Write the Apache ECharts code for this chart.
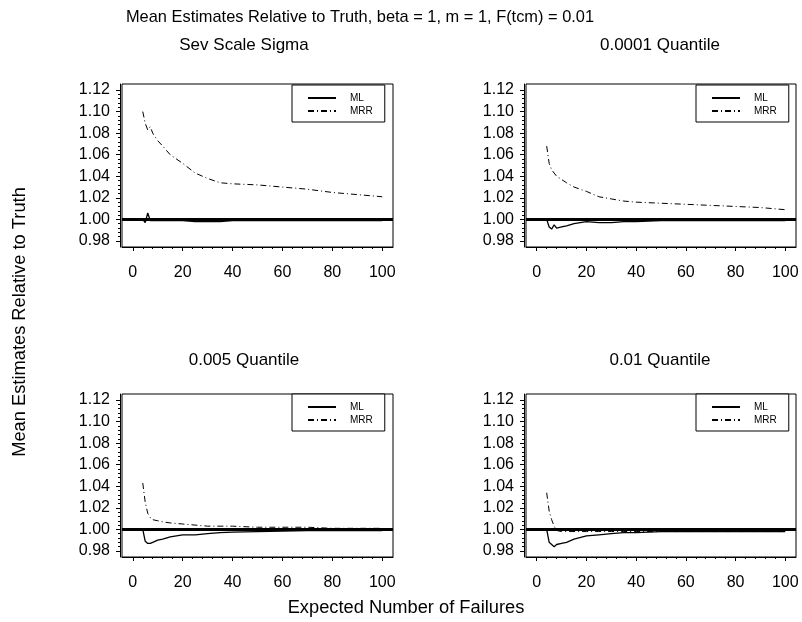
<!DOCTYPE html>
<html>
<head>
<meta charset="utf-8">
<script src="https://cdn.jsdelivr.net/npm/echarts@6/dist/echarts.min.js"></script>
<style>
html,body{margin:0;padding:0;background:#fff;}
#chart{width:802px;height:622px;}
</style>
</head>
<body>
<div id="chart"></div>
<script>
// ---- data ----
var mainTitle = 'Mean Estimates Relative to Truth, beta = 1, m = 1, F(tcm) = 0.01';
var panelTitles = ['Sev Scale Sigma', '0.0001 Quantile', '0.005 Quantile', '0.01 Quantile'];
var xName = 'Expected Number of Failures';
var yName = 'Mean Estimates Relative to Truth';
var seriesNames = ['ML', 'MRR'];

var failures = [4, 5, 6, 7, 8, 10, 12, 15, 20, 25, 30, 35, 40, 50, 60, 70, 80, 90, 100];

var mlSigma   = [1.000, 0.997, 1.006, 0.999, 0.999, 0.999, 0.999, 0.999, 0.999, 0.998, 0.998, 0.998, 0.999, 0.999, 0.999, 0.999, 0.999, 0.999, 0.999];
var mrrSigma  = [1.100, 1.089, 1.083, 1.086, 1.080, 1.073, 1.068, 1.060, 1.052, 1.043, 1.038, 1.034, 1.033, 1.032, 1.030, 1.028, 1.025, 1.023, 1.021];

var mlQ0001   = [1.000, 0.993, 0.991, 0.995, 0.992, 0.993, 0.994, 0.996, 0.998, 0.997, 0.997, 0.998, 0.998, 0.999, 0.999, 0.999, 0.999, 0.999, 0.999];
var mrrQ0001  = [1.068, 1.052, 1.046, 1.043, 1.040, 1.037, 1.034, 1.030, 1.026, 1.021, 1.019, 1.017, 1.016, 1.015, 1.014, 1.013, 1.012, 1.011, 1.009];

var mlQ005    = [1.000, 0.989, 0.987, 0.987, 0.988, 0.990, 0.991, 0.993, 0.995, 0.995, 0.996, 0.997, 0.9975, 0.998, 0.9985, 0.999, 0.999, 0.999, 0.999];
var mrrQ005   = [1.043, 1.025, 1.015, 1.011, 1.009, 1.008, 1.007, 1.006, 1.005, 1.004, 1.003, 1.003, 1.003, 1.002, 1.002, 1.002, 1.001, 1.001, 1.001];

var mlQ01     = [1.000, 0.988, 0.986, 0.984, 0.986, 0.987, 0.988, 0.991, 0.994, 0.995, 0.996, 0.997, 0.997, 0.998, 0.998, 0.998, 0.998, 0.998, 0.998];
var mrrQ01    = [1.034, 1.017, 1.009, 1.003, 0.999, 0.998, 0.998, 0.998, 0.998, 0.998, 0.998, 0.998, 0.998, 0.998, 0.998, 0.998, 0.998, 0.998, 0.998];

var referenceValue = 1.0;
var yTicks = [0.98, 1.00, 1.02, 1.04, 1.06, 1.08, 1.10, 1.12];
var yMinorTicks = [0.984, 0.988, 0.992, 0.996, 1.004, 1.008, 1.012, 1.016, 1.024, 1.028, 1.032, 1.036, 1.044, 1.048, 1.052, 1.056, 1.064, 1.068, 1.072, 1.076, 1.084, 1.088, 1.092, 1.096, 1.104, 1.108, 1.112, 1.116];
var xTicks = [0, 20, 40, 60, 80, 100];
var xMinorTicks = [4, 8, 12, 16, 24, 28, 32, 36, 44, 48, 52, 56, 64, 68, 72, 76, 84, 88, 92, 96];

var panelML  = [mlSigma, mlQ0001, mlQ005, mlQ01];
var panelMRR = [mrrSigma, mrrQ0001, mrrQ005, mrrQ01];

// ---- layout ----
var FONT = '"Liberation Sans", Arial, Helvetica, sans-serif';
var grids = [
  {left: 122, top: 84, width: 271, height: 163},
  {left: 526, top: 84, width: 270, height: 163},
  {left: 122, top: 394, width: 271, height: 163},
  {left: 526, top: 394, width: 270, height: 163}
];
var titlePos = [[244, 45], [660, 45], [244, 360], [660, 360]];
var legendPos = [
  {left: 292, top: 85},
  {left: 696, top: 85},
  {left: 292, top: 394},
  {left: 696, top: 394}
];
var X_MIN = -4.32, X_MAX = 104.32;
var Y_MIN = 0.9744, Y_MAX = 1.1256;

function zip(xs, ys) { return xs.map(function (x, i) { return [x, ys[i]]; }); }

var option = {
  animation: false,
  backgroundColor: '#fff',
  grid: [], xAxis: [], yAxis: [], series: [], legend: [], graphic: []
};

grids.forEach(function (g, i) {
  option.grid.push({left: g.left, top: g.top, width: g.width, height: g.height,
    show: true, borderColor: '#000', borderWidth: 1, backgroundColor: 'transparent'});
  // major x axis
  option.xAxis.push({type: 'value', gridIndex: i, position: 'bottom', min: X_MIN, max: X_MAX,
    axisLine: {show: true, onZero: false, lineStyle: {color: '#000', width: 1}},
    axisTick: {show: true, customValues: xTicks, length: 4, lineStyle: {color: '#000'}},
    axisLabel: {show: true, customValues: xTicks, color: '#000', fontSize: 16, fontFamily: FONT, margin: 18,
      formatter: function (v) { return String(v); }},
    splitLine: {show: false}});
  // minor x ticks
  option.xAxis.push({type: 'value', gridIndex: i, position: 'bottom', min: X_MIN, max: X_MAX,
    axisLine: {show: false, onZero: false},
    axisTick: {show: true, customValues: xMinorTicks, length: 2, lineStyle: {color: '#000'}},
    axisLabel: {show: false}, splitLine: {show: false}});
  // major y axis
  option.yAxis.push({type: 'value', gridIndex: i, position: 'left', min: Y_MIN, max: Y_MAX, offset: 2,
    axisLine: {show: true, onZero: false, lineStyle: {color: '#000', width: 1}},
    axisTick: {show: true, customValues: yTicks, length: 4, lineStyle: {color: '#000'}},
    axisLabel: {show: true, customValues: yTicks, color: '#000', fontSize: 16, fontFamily: FONT, margin: 10,
      formatter: function (v) { return v.toFixed(2); }},
    splitLine: {show: false}});
  // minor y ticks
  option.yAxis.push({type: 'value', gridIndex: i, position: 'left', min: Y_MIN, max: Y_MAX, offset: 2,
    axisLine: {show: false, onZero: false},
    axisTick: {show: true, customValues: yMinorTicks, length: 2, lineStyle: {color: '#000'}},
    axisLabel: {show: false}, splitLine: {show: false}});

  option.series.push({name: seriesNames[0], type: 'line', xAxisIndex: 2 * i, yAxisIndex: 2 * i,
    data: zip(failures, panelML[i]), symbol: 'none', showSymbol: false,
    lineStyle: {color: '#000', width: 1.3, type: 'solid'}, itemStyle: {color: '#000'},
    markLine: {silent: true, symbol: ['none', 'none'], label: {show: false},
      lineStyle: {color: '#000', width: 3, type: 'solid'},
      data: [{yAxis: referenceValue}]}, z: 3});
  option.series.push({name: seriesNames[1], type: 'line', xAxisIndex: 2 * i, yAxisIndex: 2 * i,
    data: zip(failures, panelMRR[i]), symbol: 'none', showSymbol: false,
    lineStyle: {color: '#000', width: 1, type: [6, 3, 1, 3]}, itemStyle: {color: '#000'}, z: 2});

  option.legend.push({show: true, orient: 'vertical', left: legendPos[i].left, top: legendPos[i].top,
    data: seriesNames, selectedMode: false,
    padding: [8, 12, 6, 15], itemGap: 3, itemWidth: 28, itemHeight: 12,
    itemStyle: {opacity: 0, color: 'rgba(0,0,0,0)', borderWidth: 0},
    borderColor: '#000', borderWidth: 1, borderRadius: 0, backgroundColor: '#fff',
    textStyle: {color: '#000', fontSize: 10, fontFamily: FONT, padding: [0, 0, 0, 9]}});

  option.graphic.push({type: 'text', x: titlePos[i][0], y: titlePos[i][1],
    style: {text: panelTitles[i], fill: '#000', font: '17px ' + FONT, align: 'center', verticalAlign: 'middle'}});
});

option.graphic.push({type: 'text', x: 360, y: 17,
  style: {text: mainTitle, fill: '#000', font: '16.4px ' + FONT, align: 'center', verticalAlign: 'middle'}});
option.graphic.push({type: 'text', x: 406, y: 608,
  style: {text: xName, fill: '#000', font: '18.3px ' + FONT, align: 'center', verticalAlign: 'middle'}});
option.graphic.push({type: 'text', x: 20, y: 322, rotation: Math.PI / 2,
  style: {text: yName, fill: '#000', font: '18.3px ' + FONT, align: 'center', verticalAlign: 'middle'}});

var chart = echarts.init(document.getElementById('chart'), null, {renderer: 'canvas'});
chart.setOption(option);
</script>
</body>
</html>
